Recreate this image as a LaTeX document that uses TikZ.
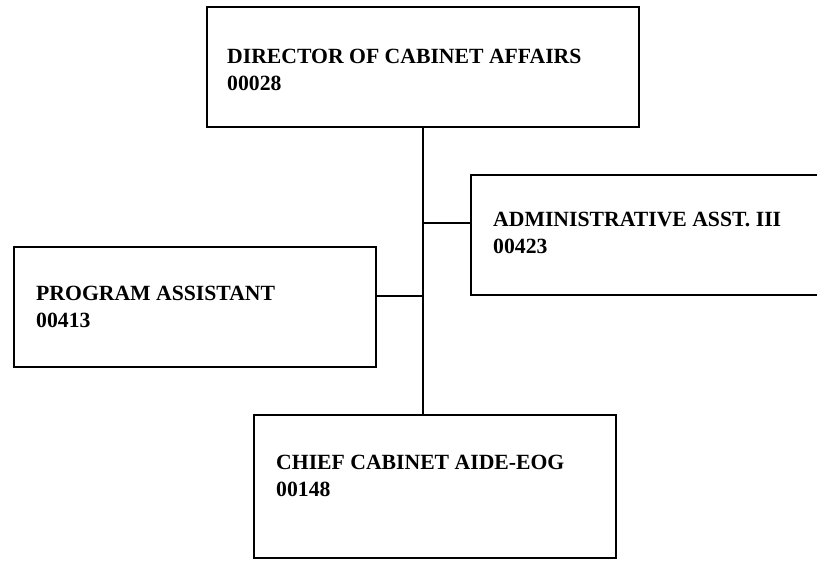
\documentclass[tikz,border=0pt]{standalone}
\usepackage{fontspec}
\setmainfont{Liberation Serif}
\begin{document}
\begin{tikzpicture}[x=1pt, y=1pt,
	post/.style={draw, line width=1.8pt, rectangle, inner sep=0pt, outer sep=0pt, anchor=north west},
	title/.style={anchor=base west, inner sep=0pt, align=left, font=\bfseries\fontsize{21.7}{27}\selectfont},
	link/.style={line width=1.2pt}]
\clip (0,0) rectangle (817,-562);

% boxes
\node[post, minimum width=432, minimum height=120] (director) at (207,-7) {};
\node[post, minimum width=400, minimum height=120] (admin) at (471,-175) {};
\node[post, minimum width=362, minimum height=120] (program) at (14,-247) {};
\node[post, minimum width=362, minimum height=143] (chief) at (254,-415) {};

% titles (base = last line)
\node[title] (directortxt) at (227,-90) {DIRECTOR OF CABINET AFFAIRS\\00028};
\node[title] (admintxt) at (493,-253) {ADMINISTRATIVE ASST. III\\00423};
\node[title] (programtxt) at (36,-327) {PROGRAM ASSISTANT\\00413};
\node[title] (chieftxt) at (276,-496) {CHIEF CABINET AIDE-EOG\\00148};

% lines
\coordinate (ja) at (director.south |- 0,-223);
\coordinate (jp) at (director.south |- 0,-296);
\draw[link] (director.south) -- (director.south |- chief.north);
\draw[link] (ja) -- (ja -| admin.west);
\draw[link] (jp) -- (jp -| program.east);

\end{tikzpicture}
\end{document}
